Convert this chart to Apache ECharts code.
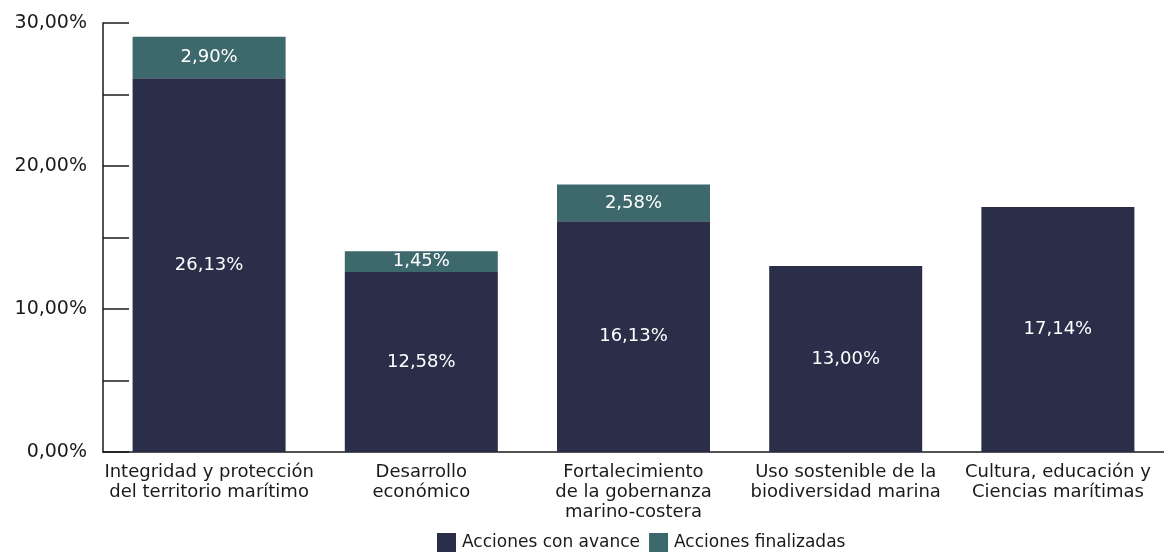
<!DOCTYPE html>
<html>
<head>
<meta charset="utf-8">
<script src="https://cdn.jsdelivr.net/npm/echarts@6/dist/echarts.min.js"></script>
<style>
  html, body { margin: 0; padding: 0; background: #fff; }
  #chart { width: 1164px; height: 554px; }
</style>
</head>
<body>
<div id="chart"></div>
<script>
var categories = [
    'Integridad y protección\ndel territorio marítimo',
    'Desarrollo\neconómico',
    'Fortalecimiento\nde la gobernanza\nmarino-costera',
    'Uso sostenible de la\nbiodiversidad marina',
    'Cultura, educación y\nCiencias marítimas'
];
var conAvance = [26.13, 12.58, 16.13, 13.00, 17.14];
var finalizadas = [2.90, 1.45, 2.58, null, null];
var yTicks = [0, 10, 20, 30];

var fontName = 'DejaVu Sans';
var ink = '#1a1a1a';

function pct(v) {
    return Number(v).toFixed(2).replace('.', ',') + '%';
}

var myChart = echarts.init(document.getElementById('chart'));
var option = {
    animation: false,
    textStyle: { fontFamily: fontName },
    grid: { left: 103, right: -1, top: 23, bottom: 102, containLabel: false },
    legend: {
        left: 437,
        top: 533,
        padding: 0,
        itemWidth: 19,
        itemHeight: 19,
        itemGap: 9,
        icon: 'rect',
        textStyle: { fontFamily: fontName, fontSize: 17, color: ink, padding: [0, 0, 0, 1] },
        data: ['Acciones con avance', 'Acciones finalizadas']
    },
    xAxis: {
        type: 'category',
        data: categories,
        axisLine: { lineStyle: { color: ink, width: 1.5 } },
        axisTick: { inside: true, length: 10, lineStyle: { color: ink, width: 1.5 } },
        axisLabel: {
            color: ink,
            fontSize: 18,
            lineHeight: 20,
            margin: 10,
            interval: 0,
            fontFamily: fontName
        }
    },
    yAxis: {
        type: 'value',
        min: yTicks[0],
        max: yTicks[yTicks.length - 1],
        interval: 10,
        splitLine: { show: false },
        axisLine: { show: true, lineStyle: { color: ink, width: 1.5 } },
        axisTick: { show: true, inside: true, length: 26, lineStyle: { color: ink, width: 1.5 } },
        minorTick: { show: true, splitNumber: 2, length: 26, lineStyle: { color: ink, width: 1.5 } },
        axisLabel: {
            color: ink,
            fontSize: 19,
            margin: 16,
            fontFamily: fontName,
            formatter: function (v) { return pct(v); }
        }
    },
    series: [
        {
            name: 'Acciones con avance',
            type: 'bar',
            stack: 'total',
            barWidth: 153,
            itemStyle: { color: '#2a2e48' },
            label: {
                show: true,
                position: 'inside',
                color: '#fff',
                fontSize: 18,
                fontFamily: fontName,
                formatter: function (p) { return pct(p.value); }
            },
            data: conAvance
        },
        {
            name: 'Acciones finalizadas',
            type: 'bar',
            stack: 'total',
            barWidth: 153,
            itemStyle: { color: '#3d686c' },
            label: {
                show: true,
                position: 'inside',
                color: '#fff',
                fontSize: 18,
                fontFamily: fontName,
                formatter: function (p) { return p.value == null ? '' : pct(p.value); }
            },
            data: finalizadas
        }
    ]
};
myChart.setOption(option);
</script>
</body>
</html>
